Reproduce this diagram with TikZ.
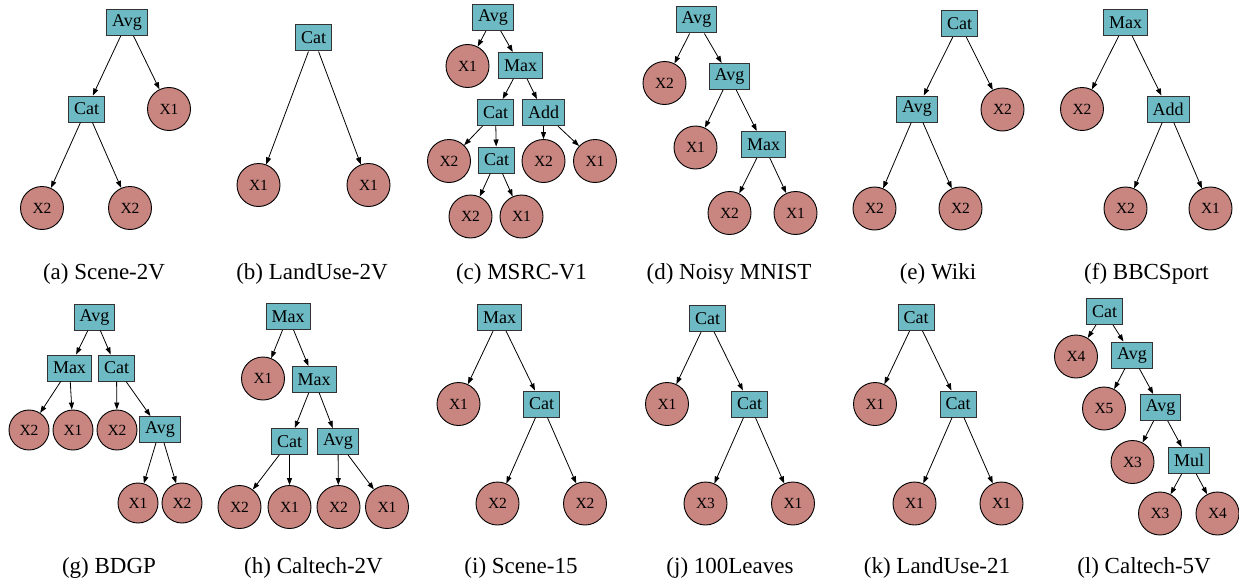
\documentclass[tikz,border=0pt]{standalone}
\usepackage{fontspec}
\setmainfont{Liberation Serif}
\usetikzlibrary{arrows.meta}
\definecolor{opfill}{HTML}{6DBAC4}
\definecolor{leaffill}{HTML}{C98580}
\definecolor{opline}{HTML}{333333}
\tikzset{
  op/.style={draw=opline, line width=1pt, fill=opfill, rectangle, minimum height=26pt, inner xsep=5.5pt, inner ysep=1pt, font=\fontsize{18}{20}\selectfont},
  leaf/.style={draw=black, line width=0.9pt, fill=leaffill, circle, minimum size=43pt, inner sep=0pt, font=\fontsize{15.5}{18}\selectfont},
  arr/.style={-{Triangle[length=7pt,width=5pt]}, line width=0.8pt, black},
  captext/.style={font=\fontsize{23}{27}\selectfont}
}
\begin{document}
\begin{tikzpicture}[x=1pt,y=-1pt]
\useasboundingbox (0,0) rectangle (1239,586);
% (a)
\node[op] (a0) at (127,22.5) {Avg};
\node[op] (a1) at (86.5,109) {Cat};
\node[leaf] (a2) at (169,109) {X1};
\node[leaf] (a3) at (42,208) {X2};
\node[leaf] (a4) at (130,208) {X2};
\draw[arr] (a0) -- (a1); \draw[arr] (a0) -- (a2);
\draw[arr] (a1) -- (a3); \draw[arr] (a1) -- (a4);
\node[captext] (ca) at (104,274) {(a) Scene-2V};
% (b)
\node[op] (b0) at (313.5,38) {Cat};
\node[leaf] (b1) at (258.5,185) {X1};
\node[leaf] (b2) at (368.5,185) {X1};
\draw[arr] (b0) -- (b1); \draw[arr] (b0) -- (b2);
\node[captext] (cb) at (312,274) {(b) LandUse-2V};
% (c)
\node[op] (c0) at (493,17.5) {Avg};
\node[leaf] (c1) at (467.5,66) {X1};
\node[op] (c2) at (520.5,65.5) {Max};
\node[op] (c3) at (495.5,112.5) {Cat};
\node[op] (c4) at (543.5,112.5) {Add};
\node[leaf] (c5) at (449,161) {X2};
\node[op] (c6) at (496.5,160) {Cat};
\node[leaf] (c7) at (543.5,161) {X2};
\node[leaf] (c8) at (595,161) {X1};
\node[leaf] (c9) at (470.5,216.5) {X2};
\node[leaf] (c10) at (521.5,216.5) {X1};
\draw[arr] (c0) -- (c1); \draw[arr] (c0) -- (c2);
\draw[arr] (c2) -- (c3); \draw[arr] (c2) -- (c4);
\draw[arr] (c3) -- (c5); \draw[arr] (c3) -- (c6);
\draw[arr] (c4) -- (c7); \draw[arr] (c4) -- (c8);
\draw[arr] (c6) -- (c9); \draw[arr] (c6) -- (c10);
\node[captext] (cc) at (521.5,274) {(c) MSRC-V1};
% (d)
\node[op] (d0) at (696.5,20) {Avg};
\node[leaf] (d1) at (664.5,83) {X2};
\node[op] (d2) at (729.5,76.5) {Avg};
\node[leaf] (d3) at (695.5,147.5) {X1};
\node[op] (d4) at (763.5,144.5) {Max};
\node[leaf] (d5) at (729.5,213) {X2};
\node[leaf] (d6) at (795.5,213) {X1};
\draw[arr] (d0) -- (d1); \draw[arr] (d0) -- (d2);
\draw[arr] (d2) -- (d3); \draw[arr] (d2) -- (d4);
\draw[arr] (d4) -- (d5); \draw[arr] (d4) -- (d6);
\node[captext] (cd) at (729,274) {(d) Noisy MNIST};
% (e)
\node[op] (e0) at (959.5,23.5) {Cat};
\node[op] (e1) at (917,109) {Avg};
\node[leaf] (e2) at (1002.5,109.5) {X2};
\node[leaf] (e3) at (874.5,208.5) {X2};
\node[leaf] (e4) at (960.5,208.5) {X2};
\draw[arr] (e0) -- (e1); \draw[arr] (e0) -- (e2);
\draw[arr] (e1) -- (e3); \draw[arr] (e1) -- (e4);
\node[captext] (ce) at (938,274) {(e) Wiki};
% (f)
\node[op] (f0) at (1125.5,22.5) {Max};
\node[leaf] (f1) at (1082,109) {X2};
\node[op] (f2) at (1168,109) {Add};
\node[leaf] (f3) at (1125.5,208.5) {X2};
\node[leaf] (f4) at (1210.5,208.5) {X1};
\draw[arr] (f0) -- (f1); \draw[arr] (f0) -- (f2);
\draw[arr] (f2) -- (f3); \draw[arr] (f2) -- (f4);
\node[captext] (cf) at (1146.5,274) {(f) BBCSport};
% (g)
\node[op] (g0) at (94.5,317) {Avg};
\node[op] (g1) at (69.5,368) {Max};
\node[op] (g2) at (116.5,368) {Cat};
\node[leaf, minimum size=40pt] (g3) at (29,430) {X2};
\node[leaf, minimum size=40pt] (g4) at (73,430) {X1};
\node[leaf, minimum size=40pt] (g5) at (117,430) {X2};
\node[op] (g6) at (160,429.5) {Avg};
\node[leaf, minimum size=40pt] (g7) at (138,503) {X1};
\node[leaf, minimum size=40pt] (g8) at (182,503) {X2};
\draw[arr] (g0) -- (g1); \draw[arr] (g0) -- (g2);
\draw[arr] (g1) -- (g3); \draw[arr] (g1) -- (g4);
\draw[arr] (g2) -- (g5); \draw[arr] (g2) -- (g6);
\draw[arr] (g6) -- (g7); \draw[arr] (g6) -- (g8);
\node[captext] (cg) at (109,568) {(g) BDGP};
% (h)
\node[op] (h0) at (288,316.5) {Max};
\node[leaf] (h1) at (263,378.5) {X1};
\node[op] (h2) at (314,379.5) {Max};
\node[op] (h3) at (289.5,441.5) {Cat};
\node[op] (h4) at (338,441.5) {Avg};
\node[leaf] (h5) at (239.5,507) {X2};
\node[leaf] (h6) at (289.5,507) {X1};
\node[leaf] (h7) at (338.5,507) {X2};
\node[leaf] (h8) at (387,507) {X1};
\draw[arr] (h0) -- (h1); \draw[arr] (h0) -- (h2);
\draw[arr] (h2) -- (h3); \draw[arr] (h2) -- (h4);
\draw[arr] (h3) -- (h5); \draw[arr] (h3) -- (h6);
\draw[arr] (h4) -- (h7); \draw[arr] (h4) -- (h8);
\node[captext] (ch) at (313.5,568) {(h) Caltech-2V};
% (i)
\node[op] (i0) at (499.5,317.5) {Max};
\node[leaf] (i1) at (458.5,404) {X1};
\node[op] (i2) at (541.5,404) {Cat};
\node[leaf] (i3) at (497.5,503.5) {X2};
\node[leaf] (i4) at (585,503.5) {X2};
\draw[arr] (i0) -- (i1); \draw[arr] (i0) -- (i2);
\draw[arr] (i2) -- (i3); \draw[arr] (i2) -- (i4);
\node[captext] (ci) at (521,568) {(i) Scene-15};
% (j)
\node[op] (j0) at (707.5,318.5) {Cat};
\node[leaf] (j1) at (667,404) {X1};
\node[op] (j2) at (749.5,404) {Cat};
\node[leaf] (j3) at (705.5,503.5) {X3};
\node[leaf] (j4) at (793,503.5) {X1};
\draw[arr] (j0) -- (j1); \draw[arr] (j0) -- (j2);
\draw[arr] (j2) -- (j3); \draw[arr] (j2) -- (j4);
\node[captext] (cj) at (730,568) {(j) 100Leaves};
% (k)
\node[op] (k0) at (916,317.5) {Cat};
\node[leaf] (k1) at (875,404) {X1};
\node[op] (k2) at (958,404) {Cat};
\node[leaf] (k3) at (914.5,503.5) {X1};
\node[leaf] (k4) at (1001.5,503.5) {X1};
\draw[arr] (k0) -- (k1); \draw[arr] (k0) -- (k2);
\draw[arr] (k2) -- (k3); \draw[arr] (k2) -- (k4);
\node[captext] (ck) at (937,568) {(k) LandUse-21};
% (l)
\node[op] (l0) at (1104.5,311.5) {Cat};
\node[leaf] (l1) at (1076,356.5) {X4};
\node[op] (l2) at (1132,355) {Avg};
\node[leaf] (l3) at (1104,408.5) {X5};
\node[op] (l4) at (1160.5,407.5) {Avg};
\node[leaf] (l5) at (1132.5,462) {X3};
\node[op] (l6) at (1189,460.5) {Mul};
\node[leaf] (l7) at (1160,513.5) {X3};
\node[leaf] (l8) at (1217.5,513.5) {X4};
\draw[arr] (l0) -- (l1); \draw[arr] (l0) -- (l2);
\draw[arr] (l2) -- (l3); \draw[arr] (l2) -- (l4);
\draw[arr] (l4) -- (l5); \draw[arr] (l4) -- (l6);
\draw[arr] (l6) -- (l7); \draw[arr] (l6) -- (l8);
\node[captext] (cl) at (1144,568) {(l) Caltech-5V};
\end{tikzpicture}
\end{document}
